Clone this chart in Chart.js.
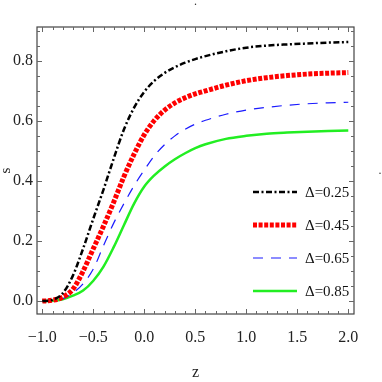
<!DOCTYPE html>
<html>
<head>
<meta charset="utf-8">
<script src="https://cdn.jsdelivr.net/npm/chart.js@4.4.1/dist/chart.umd.min.js"></script>
<style>
  html, body { margin: 0; padding: 0; background: #fff; }
</style>
</head>
<body>
<canvas id="chart" width="382" height="382"></canvas>
<script>
// z grid and the four s(z) curves
const zVals = [-1, -0.9, -0.8, -0.7, -0.6, -0.5, -0.4, -0.3, -0.2, -0.1, 0, 0.1, 0.2, 0.3, 0.4, 0.5, 0.6, 0.8, 1.0, 1.2, 1.4, 1.6, 1.8, 2.0];
const sDelta025 = [0, 0.004, 0.026, 0.085, 0.175, 0.275, 0.372, 0.475, 0.572, 0.645, 0.698, 0.735, 0.761, 0.78, 0.795, 0.807, 0.817, 0.833, 0.845, 0.852, 0.856, 0.859, 0.862, 0.864];
const sDelta045 = [0, 0.003, 0.013, 0.04, 0.10, 0.175, 0.25, 0.33, 0.415, 0.49, 0.555, 0.603, 0.637, 0.661, 0.678, 0.691, 0.701, 0.72, 0.735, 0.745, 0.752, 0.757, 0.76, 0.762];
const sDelta065 = [0, 0.002, 0.008, 0.027, 0.058, 0.107, 0.185, 0.26, 0.325, 0.385, 0.437, 0.485, 0.522, 0.551, 0.573, 0.59, 0.603, 0.623, 0.637, 0.646, 0.653, 0.658, 0.661, 0.663];
const sDelta085 = [0, 0.001, 0.006, 0.018, 0.035, 0.068, 0.115, 0.18, 0.253, 0.325, 0.382, 0.42, 0.449, 0.473, 0.493, 0.51, 0.523, 0.541, 0.551, 0.558, 0.562, 0.565, 0.567, 0.569];
const seriesLabels = ['Δ=0.25', 'Δ=0.45', 'Δ=0.65', 'Δ=0.85'];

// ticks
const xTicks = [-1, -0.5, 0, 0.5, 1, 1.5, 2];
const xTickLabels = ['−1.0', '−0.5', '0.0', '0.5', '1.0', '1.5', '2.0'];
const yTicks = [0, 0.2, 0.4, 0.6, 0.8];
const yTickLabels = ['0.0', '0.2', '0.4', '0.6', '0.8'];

const SERIF = "'Liberation Serif', 'Times New Roman', serif";
const toPts = arr => zVals.map((z, i) => ({ x: z, y: arr[i] }));

// frame with inward ticks on all four sides, plus the inset legend
const framePlugin = {
  id: 'frame',
  afterDraw(chart) {
    const { ctx, chartArea: a, scales: { x, y } } = chart;
    ctx.save();
    ctx.strokeStyle = '#444';
    ctx.lineWidth = 1.2;
    ctx.strokeRect(a.left, a.top, a.right - a.left, a.bottom - a.top);

    ctx.lineWidth = 1;
    ctx.strokeStyle = '#666';
    ctx.beginPath();
    for (let k = -10; k <= 20; k++) {
      const px = Math.round(x.getPixelForValue(k / 10)) + 0.5;
      const len = k % 5 === 0 ? 5 : 3;
      ctx.moveTo(px, a.bottom); ctx.lineTo(px, a.bottom - len);
      ctx.moveTo(px, a.top); ctx.lineTo(px, a.top + len);
    }
    for (let k = 0; k <= 18; k++) {
      const py = Math.round(y.getPixelForValue(k / 20)) + 0.5;
      const len = k % 4 === 0 ? 5 : 3;
      ctx.moveTo(a.left, py); ctx.lineTo(a.left + len, py);
      ctx.moveTo(a.right, py); ctx.lineTo(a.right - len, py);
    }
    ctx.stroke();

    // legend
    ctx.font = '15px ' + SERIF;
    ctx.textBaseline = 'middle';
    ctx.textAlign = 'left';
    chart.data.datasets.forEach((ds, i) => {
      const ly = a.top + 165 + i * 33;
      ctx.save();
      ctx.strokeStyle = ds.borderColor;
      ctx.lineWidth = ds.borderWidth;
      ctx.setLineDash(ds.borderDash || []);
      ctx.lineCap = 'butt';
      ctx.beginPath();
      ctx.moveTo(a.left + 216, ly);
      ctx.lineTo(a.left + 260, ly);
      ctx.stroke();
      ctx.restore();
      ctx.fillStyle = '#111';
      ctx.fillText(ds.label, a.left + 268, ly + 1);
    });

    // stray dots from the original figure
    ctx.fillStyle = '#333';
    ctx.font = '12px ' + SERIF;
    ctx.textAlign = 'center';
    ctx.fillText('.', (a.left + a.right) / 2, 2);
    ctx.fillText('.', 380, (a.top + a.bottom) / 2);
    ctx.restore();
  }
};

new Chart(document.getElementById('chart'), {
  type: 'line',
  data: {
    datasets: [
      { label: seriesLabels[0], data: toPts(sDelta025), borderColor: '#000', borderWidth: 2.5, borderDash: [6, 2.5, 2, 2.5] },
      { label: seriesLabels[1], data: toPts(sDelta045), borderColor: '#ff0000', borderWidth: 5, borderDash: [4, 1.6] },
      { label: seriesLabels[2], data: toPts(sDelta065), borderColor: '#1a1aff', borderWidth: 1.2, borderDash: [10, 8] },
      { label: seriesLabels[3], data: toPts(sDelta085), borderColor: '#22ee22', borderWidth: 2.5 }
    ]
  },
  options: {
    responsive: false,
    animation: false,
    devicePixelRatio: 1,
    layout: { padding: { top: 27, right: 28, left: 0, bottom: 0 } },
    elements: {
      point: { radius: 0 },
      line: { tension: 0.4, cubicInterpolationMode: 'monotone', borderCapStyle: 'butt', fill: false }
    },
    plugins: { legend: { display: false }, tooltip: { enabled: false } },
    scales: {
      x: {
        type: 'linear', min: -1.052, max: 2.056,
        grid: { display: false, drawTicks: false },
        border: { display: false },
        afterBuildTicks: s => { s.ticks = xTicks.map(v => ({ value: v })); },
        afterFit: s => { s.height = 68; },
        ticks: {
          autoSkip: false, maxRotation: 0, padding: 14, color: '#222',
          font: { family: SERIF, size: 16 },
          callback: (v, i) => xTickLabels[i]
        },
        title: { display: true, text: 'z', color: '#222', font: { family: SERIF, size: 16 }, padding: { top: 0, bottom: 0 } }
      },
      y: {
        type: 'linear', min: -0.043, max: 0.914,
        grid: { display: false, drawTicks: false },
        border: { display: false },
        afterBuildTicks: s => { s.ticks = yTicks.map(v => ({ value: v })); },
        afterFit: s => { s.width = 37; },
        ticks: {
          autoSkip: false, padding: 4, color: '#222',
          font: { family: SERIF, size: 16 },
          callback: (v, i) => yTickLabels[i]
        },
        title: { display: true, text: 's', color: '#222', font: { family: SERIF, size: 15 }, padding: { top: -3, bottom: 0 } }
      }
    }
  },
  plugins: [framePlugin]
});
</script>
</body>
</html>
